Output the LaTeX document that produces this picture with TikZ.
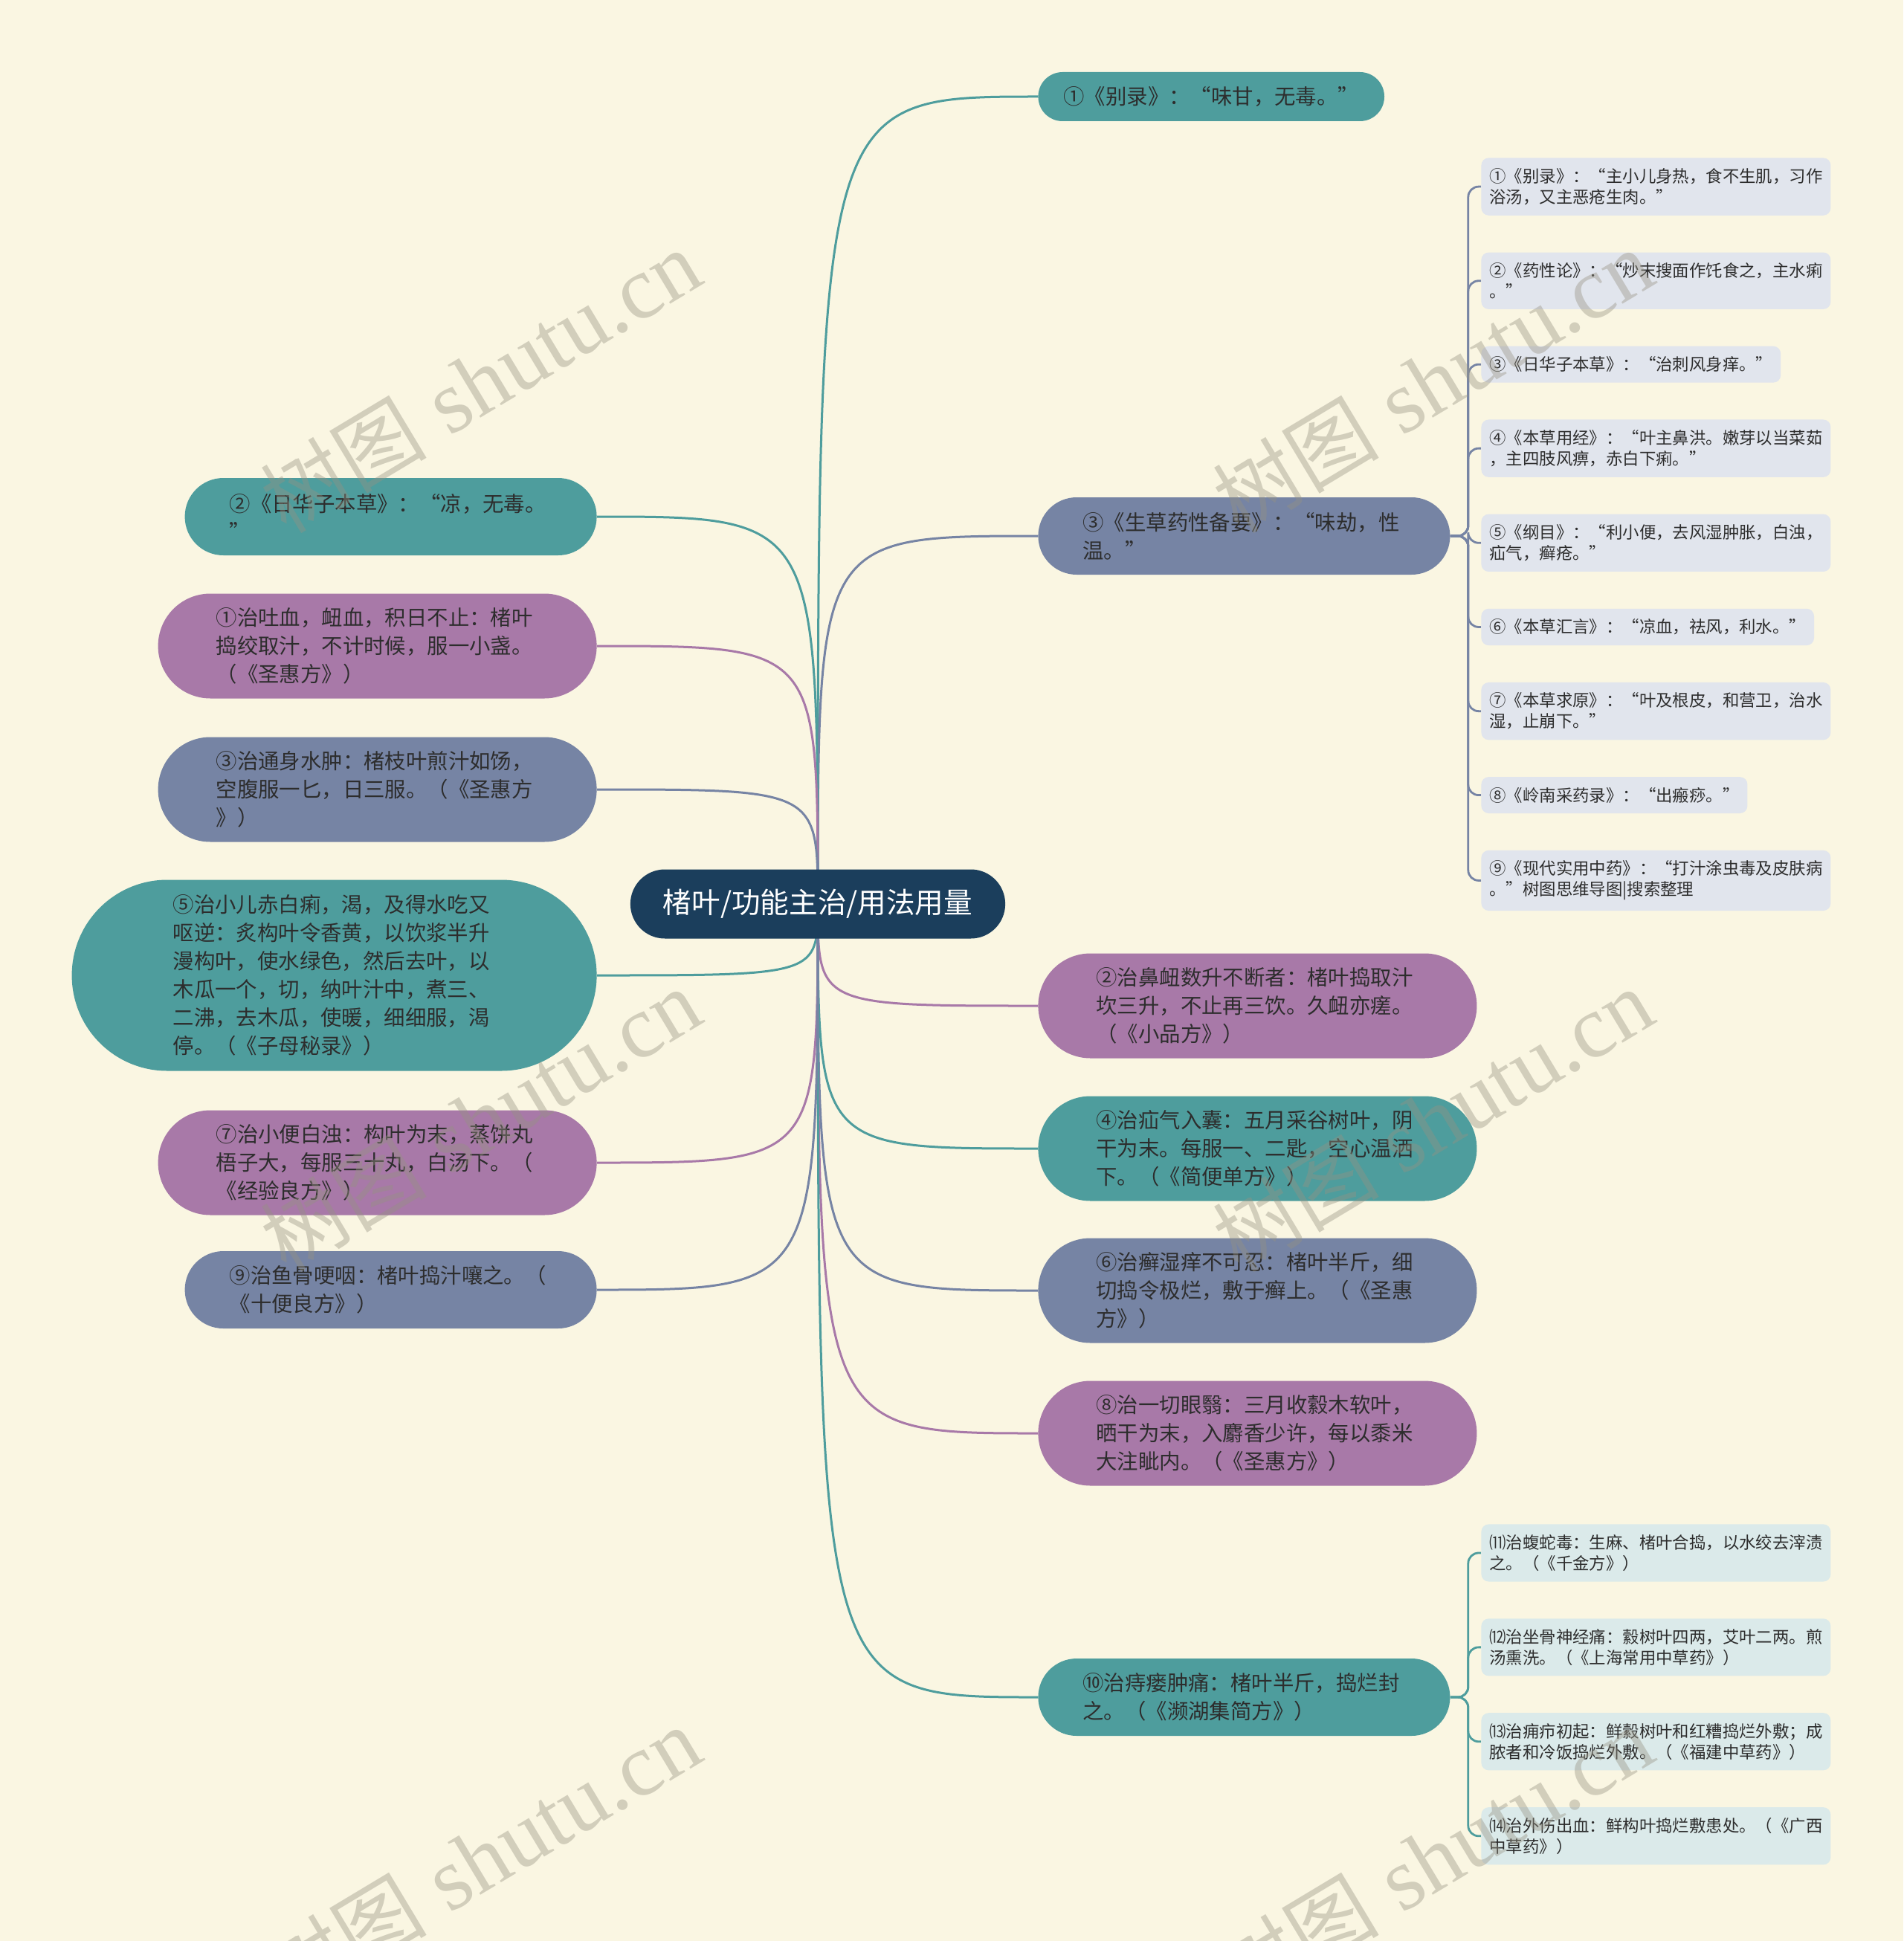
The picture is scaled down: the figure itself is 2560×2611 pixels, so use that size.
\documentclass[tikz,border=0pt]{standalone}
\usepackage{fontspec}
\usepackage{tikz}
\usetikzlibrary{positioning,calc,backgrounds}
\newfontfamily\cjk{Noto Sans CJK SC}
\newfontfamily\wmserif{Liberation Serif}
\definecolor{cream}{RGB}{250,246,226}
\definecolor{tealc}{RGB}{78,157,157}
\definecolor{purp}{RGB}{168,121,168}
\definecolor{slate}{RGB}{118,132,164}
\definecolor{navy}{RGB}{27,62,92}
\definecolor{leafgray}{RGB}{225,229,237}
\definecolor{leafteal}{RGB}{219,234,234}
\definecolor{ink}{RGB}{45,45,45}
\definecolor{wmark}{RGB}{150,146,130}

\begin{document}
\begin{tikzpicture}[
  x=0.5pt, y=-0.5pt,
  pill/.style={rectangle, align=left, text=ink, inner ysep=4pt,
               font=\cjk\fontsize{14.2pt}{19pt}\selectfont},
  pillone/.style={pill, minimum height=33pt, rounded corners=16.4pt, inner xsep=17pt},
  pilltwo/.style={pill, text width=217pt, minimum height=52pt, rounded corners=25.9pt, inner xsep=30pt},
  pillthree/.style={pill, text width=217pt, minimum height=70.5pt, rounded corners=35.2pt, inner xsep=39pt},
  pillsix/.style={pill, text width=217pt, minimum height=128.5pt, rounded corners=64.2pt, inner xsep=68pt},
  leaf/.style={rectangle, rounded corners=5pt, inner xsep=5.5pt, inner ysep=7pt, align=left,
               text=ink, font=\cjk\fontsize{11.2pt}{14pt}\selectfont},
  wideleaf/.style={leaf, text width=224pt},
  branch/.style={line width=1.5pt},
  twig/.style={line width=1.4pt, rounded corners=7pt},
  watermark/.style={rotate=31, text=wmark, text opacity=0.4, inner sep=0pt}]
  \useasboundingbox (0,0) rectangle (2560,2611);
  \begin{scope}[on background layer]
    \fill[cream] (0,0) rectangle (2560,2611);
  \end{scope}

  \node[pill, fill=navy, text=white, minimum height=46.5pt, rounded corners=23.2pt, inner xsep=22pt,
        font=\cjk\fontsize{19.3pt}{23pt}\selectfont] (root) at (1100,1216) {楮叶/功能主治/用法用量};

  % right side
  \node[pillone, fill=tealc, anchor=west] (bielu) at (1396,130) {①《别录》：“味甘，无毒。”};
  \node[pilltwo, fill=slate, anchor=west] (shengcao) at (1396,721) {③《生草药性备要》：“味劫，性\\温。”};
  \node[pillthree, fill=purp, anchor=west] (biniu) at (1396,1353) {②治鼻衄数升不断者：楮叶捣取汁\\坎三升，不止再三饮。久衄亦瘥。\\（《小品方》）};
  \node[pillthree, fill=tealc, anchor=west] (shanqi) at (1396,1545) {④治疝气入囊：五月采谷树叶，阴\\干为末。每服一、二匙，空心温洒\\下。（《简便单方》）};
  \node[pillthree, fill=slate, anchor=west] (xuanshi) at (1396,1736) {⑥治癣湿痒不可忍：楮叶半斤，细\\切捣令极烂，敷于癣上。（《圣惠\\方》）};
  \node[pillthree, fill=purp, anchor=west] (yanyi) at (1396,1928) {⑧治一切眼翳：三月收縠木软叶，\\晒干为末，入麝香少许，每以黍米\\大注眦内。（《圣惠方》）};
  \node[pilltwo, fill=tealc, anchor=west] (zhilou) at (1396,2283) {⑩治痔瘘肿痛：楮叶半斤，捣烂封\\之。（《濒湖集简方》）};

  % left side
  \node[pilltwo, fill=tealc, anchor=east] (rihua) at (803,695) {②《日华子本草》：“凉，无毒。\\”};
  \node[pillthree, fill=purp, anchor=east] (tuxue) at (803,869) {①治吐血，衄血，积日不止：楮叶\\捣绞取汁，不计时候，服一小盏。\\（《圣惠方》）};
  \node[pillthree, fill=slate, anchor=east] (shuizhong) at (803,1062) {③治通身水肿：楮枝叶煎汁如饧，\\空腹服一匕，日三服。（《圣惠方\\》）};
  \node[pillsix, fill=tealc, anchor=east] (chibai) at (803,1312) {⑤治小儿赤白痢，渴，及得水吃又\\呕逆：炙构叶令香黄，以饮浆半升\\漫构叶，使水绿色，然后去叶，以\\木瓜一个，切，纳叶汁中，煮三、\\二沸，去木瓜，使暖，细细服，渴\\停。（《子母秘录》）};
  \node[pillthree, fill=purp, anchor=east] (baizhuo) at (803,1564) {⑦治小便白浊：构叶为末，蒸饼丸\\梧子大，每服三十丸，白汤下。（\\《经验良方》）};
  \node[pilltwo, fill=slate, anchor=east] (yugu) at (803,1735) {⑨治鱼骨哽咽：楮叶捣汁嚷之。（\\《十便良方》）};

  % sources under shengcao
  \node[wideleaf, fill=leafgray, anchor=north west] (src1) at (1992,212) {①《别录》：“主小儿身热，食不生肌，习作\\浴汤，又主恶疮生肉。”};
  \node[wideleaf, fill=leafgray, below=24.5pt of src1.south west, anchor=north west] (src2) {②《药性论》：“炒末搜面作饦食之，主水痢\\。”};
  \node[leaf, fill=leafgray, below=24.5pt of src2.south west, anchor=north west] (src3) {③《日华子本草》：“治刺风身痒。”};
  \node[wideleaf, fill=leafgray, below=24.5pt of src3.south west, anchor=north west] (src4) {④《本草用经》：“叶主鼻洪。嫩芽以当菜茹\\，主四肢风痹，赤白下痢。”};
  \node[wideleaf, fill=leafgray, below=24.5pt of src4.south west, anchor=north west] (src5) {⑤《纲目》：“利小便，去风湿肿胀，白浊，\\疝气，癣疮。”};
  \node[leaf, fill=leafgray, below=24.5pt of src5.south west, anchor=north west] (src6) {⑥《本草汇言》：“凉血，祛风，利水。”};
  \node[wideleaf, fill=leafgray, below=24.5pt of src6.south west, anchor=north west] (src7) {⑦《本草求原》：“叶及根皮，和营卫，治水\\湿，止崩下。”};
  \node[leaf, fill=leafgray, below=24.5pt of src7.south west, anchor=north west] (src8) {⑧《岭南采药录》：“出瘢痧。”};
  \node[wideleaf, fill=leafgray, below=24.5pt of src8.south west, anchor=north west] (src9) {⑨《现代实用中药》：“打汁涂虫毒及皮肤病\\。”树图思维导图|搜索整理};

  % recipes under zhilou
  \node[wideleaf, fill=leafteal, anchor=north west] (fang11) at (1992,2050) {⑾治蝮蛇毒：生麻、楮叶合捣，以水绞去滓渍\\之。（《千金方》）};
  \node[wideleaf, fill=leafteal, below=24.5pt of fang11.south west, anchor=north west] (fang12) {⑿治坐骨神经痛：縠树叶四两，艾叶二两。煎\\汤熏洗。（《上海常用中草药》）};
  \node[wideleaf, fill=leafteal, below=24.5pt of fang12.south west, anchor=north west] (fang13) {⒀治痈疖初起：鲜縠树叶和红糟捣烂外敷；成\\脓者和冷饭捣烂外敷。（《福建中草药》）};
  \node[wideleaf, fill=leafteal, below=24.5pt of fang13.south west, anchor=north west] (fang14) {⒁治外伤出血：鲜构叶捣烂敷患处。（《广西\\中草药》）};

  \coordinate (xingtrunk) at ($(shengcao.east)+(12pt,0)$);
  \coordinate (loutrunk) at ($(zhilou.east)+(12pt,0)$);

  \begin{scope}[on background layer]
    \draw[branch, tealc] (root.center) .. controls (root.center |- bielu.west) .. (bielu.west);
    \draw[branch, slate] (root.center) .. controls (root.center |- shengcao.west) .. (shengcao.west);
    \draw[branch, purp] (root.center) .. controls (root.center |- biniu.west) .. (biniu.west);
    \draw[branch, tealc] (root.center) .. controls (root.center |- shanqi.west) .. (shanqi.west);
    \draw[branch, slate] (root.center) .. controls (root.center |- xuanshi.west) .. (xuanshi.west);
    \draw[branch, purp] (root.center) .. controls (root.center |- yanyi.west) .. (yanyi.west);
    \draw[branch, tealc] (root.center) .. controls (root.center |- zhilou.west) .. (zhilou.west);
    \draw[branch, tealc] (root.center) .. controls (root.center |- rihua.east) .. (rihua.east);
    \draw[branch, purp] (root.center) .. controls (root.center |- tuxue.east) .. (tuxue.east);
    \draw[branch, slate] (root.center) .. controls (root.center |- shuizhong.east) .. (shuizhong.east);
    \draw[branch, tealc] (root.center) .. controls (root.center |- chibai.east) .. (chibai.east);
    \draw[branch, purp] (root.center) .. controls (root.center |- baizhuo.east) .. (baizhuo.east);
    \draw[branch, slate] (root.center) .. controls (root.center |- yugu.east) .. (yugu.east);
    % trunk to the sources
    \draw[twig, slate] (shengcao.east) -- (xingtrunk) |- (src1.west);
    \draw[twig, slate] (shengcao.east) -- (xingtrunk) |- (src2.west);
    \draw[twig, slate] (shengcao.east) -- (xingtrunk) |- (src3.west);
    \draw[twig, slate] (shengcao.east) -- (xingtrunk) |- (src4.west);
    \draw[twig, slate] (shengcao.east) -- (xingtrunk) |- (src5.west);
    \draw[twig, slate] (shengcao.east) -- (xingtrunk) |- (src6.west);
    \draw[twig, slate] (shengcao.east) -- (xingtrunk) |- (src7.west);
    \draw[twig, slate] (shengcao.east) -- (xingtrunk) |- (src8.west);
    \draw[twig, slate] (shengcao.east) -- (xingtrunk) |- (src9.west);
    \draw[twig, tealc] (zhilou.east) -- (loutrunk) |- (fang11.west);
    \draw[twig, tealc] (zhilou.east) -- (loutrunk) |- (fang12.west);
    \draw[twig, tealc] (zhilou.east) -- (loutrunk) |- (fang13.west);
    \draw[twig, tealc] (zhilou.east) -- (loutrunk) |- (fang14.west);
  \end{scope}

  % watermark
  \foreach \wx/\wy in {646/513, 1927/513, 646/1507, 1927/1507, 646/2500, 1927/2500}
    \node[watermark] (wm-\wx-\wy) at (\wx,\wy) {{\cjk\fontsize{56pt}{60pt}\selectfont 树图}\hspace{16pt}{\wmserif\fontsize{60pt}{64pt}\selectfont shutu.cn}};
\end{tikzpicture}
\end{document}
